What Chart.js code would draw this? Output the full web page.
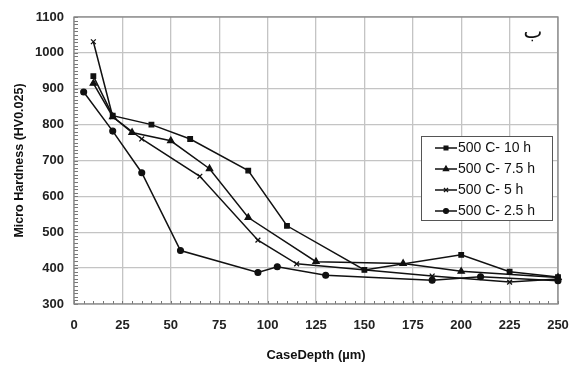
<!DOCTYPE html>
<html>
<head>
<meta charset="utf-8">
<script src="https://cdn.jsdelivr.net/npm/chart.js@4.4.1/dist/chart.umd.min.js"></script>
<style>
  html, body { margin: 0; padding: 0; background: #fff; }
  #wrap { width: 573px; height: 367px; position: relative; }
</style>
</head>
<body>
<div id="wrap"><canvas id="c" width="573" height="367"></canvas></div>
<script>
// Case depth (µm) and micro hardness (HV0.025) per nitriding time at 500 C
const depth10 = [10, 20, 40, 60, 90, 110, 150, 200, 225, 250];
const hv10    = [935, 825, 800, 760, 672, 518, 395, 437, 390, 375];

const depth75 = [10, 20, 30, 50, 70, 90, 125, 170, 200, 250];
const hv75    = [915, 822, 778, 755, 677, 541, 418, 413, 391, 374];

const depth5  = [10, 20, 35, 65, 95, 115, 185, 225, 250];
const hv5     = [1031, 822, 760, 656, 478, 412, 378, 361, 370];

const depth25 = [5, 20, 35, 55, 95, 105, 130, 185, 210, 250];
const hv25    = [891, 782, 666, 449, 388, 404, 380, 366, 376, 365];

const seriesLabels = ['500 C- 10 h', '500 C- 7.5 h', '500 C- 5 h', '500 C- 2.5 h'];
const markerStyles = ['rect', 'triangle', 'crossRot', 'circle'];
const markerSizes  = [3.2, 3.6, 3.4, 2.9];

const xTickValues = [0, 25, 50, 75, 100, 125, 150, 175, 200, 225, 250];
const yTickValues = [300, 400, 500, 600, 700, 800, 900, 1000, 1100];

const FONT = '"Liberation Sans", Arial, sans-serif';

function pairs(xs, ys) { return xs.map((x, i) => ({ x: x, y: ys[i] })); }

const allSeries = [pairs(depth10, hv10), pairs(depth75, hv75), pairs(depth5, hv5), pairs(depth25, hv25)];

const datasets = allSeries.map((pts, i) => ({
  label: seriesLabels[i],
  data: pts,
  borderColor: '#111',
  backgroundColor: '#111',
  borderWidth: 1.5,
  pointStyle: markerStyles[i],
  pointRadius: markerSizes[i],
  pointBorderColor: '#111',
  pointBackgroundColor: '#111',
  pointBorderWidth: 1.3,
  tension: 0,
  fill: false,
  clip: false
}));

// minor tick marks on the inside of the left and bottom axes, plus the frame
const frameAndTicks = {
  id: 'frameAndTicks',
  beforeDatasetsDraw(chart) {
    const { ctx, chartArea: a, scales: { x, y } } = chart;
    ctx.save();
    ctx.strokeStyle = '#777';
    ctx.lineWidth = 1;
    ctx.beginPath();
    for (let v = 300; v <= 1100; v += 10) {
      const py = Math.round(y.getPixelForValue(v)) + 0.5;
      ctx.moveTo(a.left, py); ctx.lineTo(a.left + 4, py);
    }
    for (let v = 0; v <= 250; v += 5) {
      const px = Math.round(x.getPixelForValue(v)) + 0.5;
      ctx.moveTo(px, a.bottom); ctx.lineTo(px, a.bottom - 3);
    }
    ctx.stroke();
    ctx.strokeStyle = '#888';
    ctx.lineWidth = 1.3;
    ctx.strokeRect(a.left, a.top, a.right - a.left, a.bottom - a.top);
    ctx.restore();
  }
};

// boxed legend inside the plot, line sample with marker
const boxLegend = {
  id: 'boxLegend',
  afterDatasetsDraw(chart) {
    const { ctx } = chart;
    const bx = 421, by = 136, bw = 131, bh = 84;
    ctx.save();
    ctx.fillStyle = '#fff';
    ctx.fillRect(bx, by, bw, bh);
    ctx.strokeStyle = '#555';
    ctx.lineWidth = 1;
    ctx.strokeRect(bx + 0.5, by + 0.5, bw, bh);
    chart.data.datasets.forEach((ds, i) => {
      const cy = 148 + i * 21;
      ctx.strokeStyle = '#111';
      ctx.lineWidth = 1.5;
      ctx.beginPath();
      ctx.moveTo(435, cy); ctx.lineTo(457, cy);
      ctx.stroke();
      ctx.fillStyle = '#111';
      ctx.strokeStyle = '#111';
      ctx.lineWidth = 1.2;
      Chart.helpers.drawPoint(ctx, {
        pointStyle: ds.pointStyle, radius: ds.pointRadius * 0.85, rotation: 0, borderWidth: 1.2
      }, 446, cy);
      ctx.fillStyle = '#111';
      ctx.font = '14px ' + FONT;
      ctx.textBaseline = 'middle';
      ctx.textAlign = 'left';
      ctx.fillText(ds.label, 458, cy + 0.5);
    });
    ctx.font = '20px "DejaVu Sans", "Noto Sans", sans-serif';
    ctx.textAlign = 'center';
    ctx.textBaseline = 'middle';
    ctx.fillText('ب', 533, 33);
    ctx.restore();
  }
};

new Chart(document.getElementById('c'), {
  type: 'line',
  data: { datasets: datasets },
  plugins: [frameAndTicks, boxLegend],
  options: {
    responsive: false,
    animation: false,
    devicePixelRatio: 1,
    layout: { padding: { top: 17, right: 15, left: 0, bottom: 0 } },
    plugins: { legend: { display: false }, tooltip: { enabled: false } },
    scales: {
      x: {
        type: 'linear',
        min: 0, max: 250,
        afterFit(s) { s.height = 63; s.paddingLeft = 0; s.paddingRight = 0; },
        afterBuildTicks(s) { s.ticks = xTickValues.map(v => ({ value: v })); },
        grid: { color: '#c4c4c4', lineWidth: 1.3, drawTicks: false },
        border: { display: false },
        ticks: { padding: 14, color: '#222', font: { family: FONT, size: 13, weight: 'bold' }, maxRotation: 0,
                 callback: v => String(v) },
        title: { display: true, text: 'CaseDepth (µm)', color: '#111', padding: { top: 9 }, font: { family: FONT, size: 13, weight: 'bold' } }
      },
      y: {
        min: 300, max: 1100,
        afterFit(s) { s.width = 74; s.paddingTop = 0; s.paddingBottom = 0; },
        afterBuildTicks(s) { s.ticks = yTickValues.map(v => ({ value: v })); },
        grid: { color: '#c4c4c4', lineWidth: 1.3, drawTicks: false },
        border: { display: false },
        ticks: { padding: 10, color: '#222', font: { family: FONT, size: 13, weight: 'bold' },
                 callback: v => String(v) },
        title: { display: true, text: 'Micro Hardness (HV0.025)', color: '#111', padding: { top: 12, bottom: 0 }, font: { family: FONT, size: 12.5, weight: 'bold' } }
      }
    }
  }
});
</script>
</body>
</html>
